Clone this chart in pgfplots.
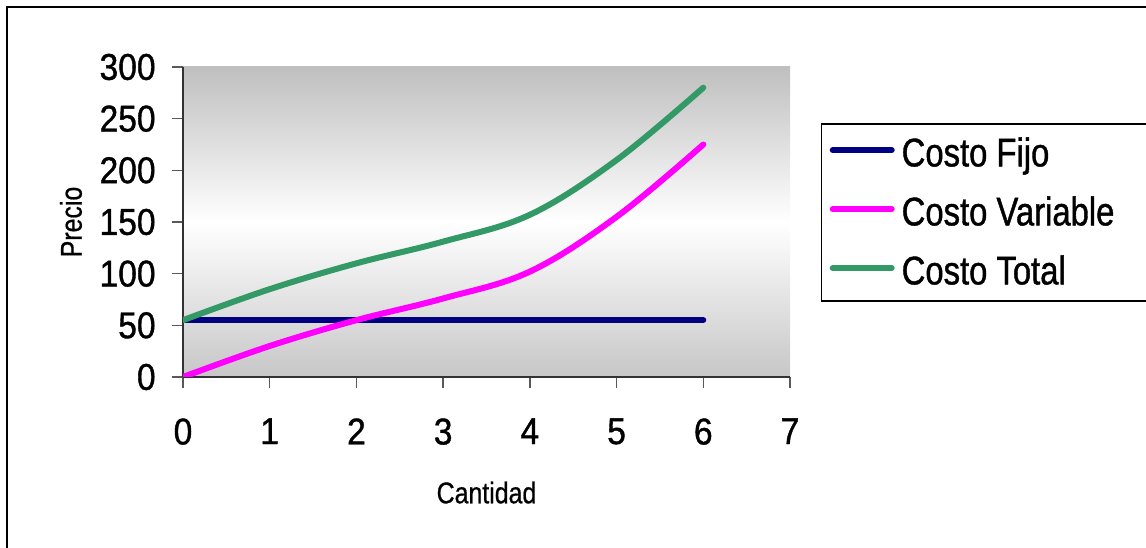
\documentclass[border=0pt]{standalone}
\usepackage{fontspec}
\setmainfont{Liberation Sans}[FakeStretch=0.9, FakeBold=1]
\newfontfamily\legfont{Liberation Sans}[FakeStretch=0.82, FakeBold=1]
\newfontfamily\labfont{Liberation Sans}[FakeStretch=0.83, FakeBold=0.6]
\usepackage{pgfplots}
\pgfplotsset{compat=1.18}

\definecolor{cfijo}{HTML}{000080}
\definecolor{cvar}{HTML}{FF00FF}
\definecolor{ctot}{HTML}{339966}

\begin{document}
\begin{tikzpicture}
\useasboundingbox (0,0) rectangle (573bp,274bp);
\clip (0,0) rectangle (573bp,274bp);
% marco exterior (solo se ven los lados izquierdo y superior)
\draw[line width=1bp] (3.3bp,-5bp) -- (3.3bp,270.7bp) -- (600bp,270.7bp);
\begin{axis}[
    at={(91.5bp,85.5bp)}, anchor=south west,
    scale only axis, width=303.5bp, height=155bp,
    xmin=0, xmax=7, ymin=0, ymax=300,
    xtick={0,...,7}, ytick={0,50,...,300},
    axis x line*=bottom, axis y line*=left,
    axis line style={line width=0.8bp, black!80},
    tick align=outside, major tick length=5.5bp,
    tick style={line width=0.7bp, black!65},
    axis background/.style={top color=black!25, bottom color=black!22, middle color=white},
    /pgf/number format/assume math mode=true,
    tick label style={font=\fontsize{18.65bp}{20bp}\selectfont, inner sep=0pt},
    yticklabel style={anchor=east, xshift=-8bp},
    xticklabel style={anchor=north, yshift=-15bp},
    xlabel={Cantidad}, ylabel={Precio},
    label style={font=\labfont\fontsize{15bp}{17bp}\selectfont, inner sep=0pt},
    xlabel style={at={(axis description cs:0.5,-0.4074)}, anchor=base},
    ylabel style={at={(axis description cs:-0.1669,0.5)}, anchor=base},
    legend cell align=left,
    legend style={at={(axis description cs:1.0506,0.8184)}, anchor=north west,
        draw=black, line width=0.7bp, fill=white,
        font=\legfont\fontsize{20bp}{22bp}\selectfont,
        inner xsep=4.15bp, inner ysep=4bp, row sep=7.95bp, column sep=3.5bp,
        nodes={inner sep=0pt, text height=17.2bp, text depth=4.35bp}},
    legend image code/.code={\draw[line width=3bp, line cap=round] (1.5bp,1.7bp) -- (31bp,1.7bp);},
    every axis plot/.append style={line width=3bp, line cap=round, smooth, tension=0.6},
]
\addplot[cfijo] coordinates {(0,55) (1,55) (2,55) (3,55) (4,55) (5,55) (6,55)};
\addlegendentry{Costo Fijo}
\addplot[cvar] coordinates {(0,0) (1,30) (2,55) (3,76) (4,102) (5,155) (6,225)};
\addlegendentry{Costo Variable\hspace*{20bp}}
\addplot[ctot] coordinates {(0,55) (1,85) (2,110) (3,131) (4,157) (5,210) (6,280)};
\addlegendentry{Costo Total}
\end{axis}
\end{tikzpicture}
\end{document}
